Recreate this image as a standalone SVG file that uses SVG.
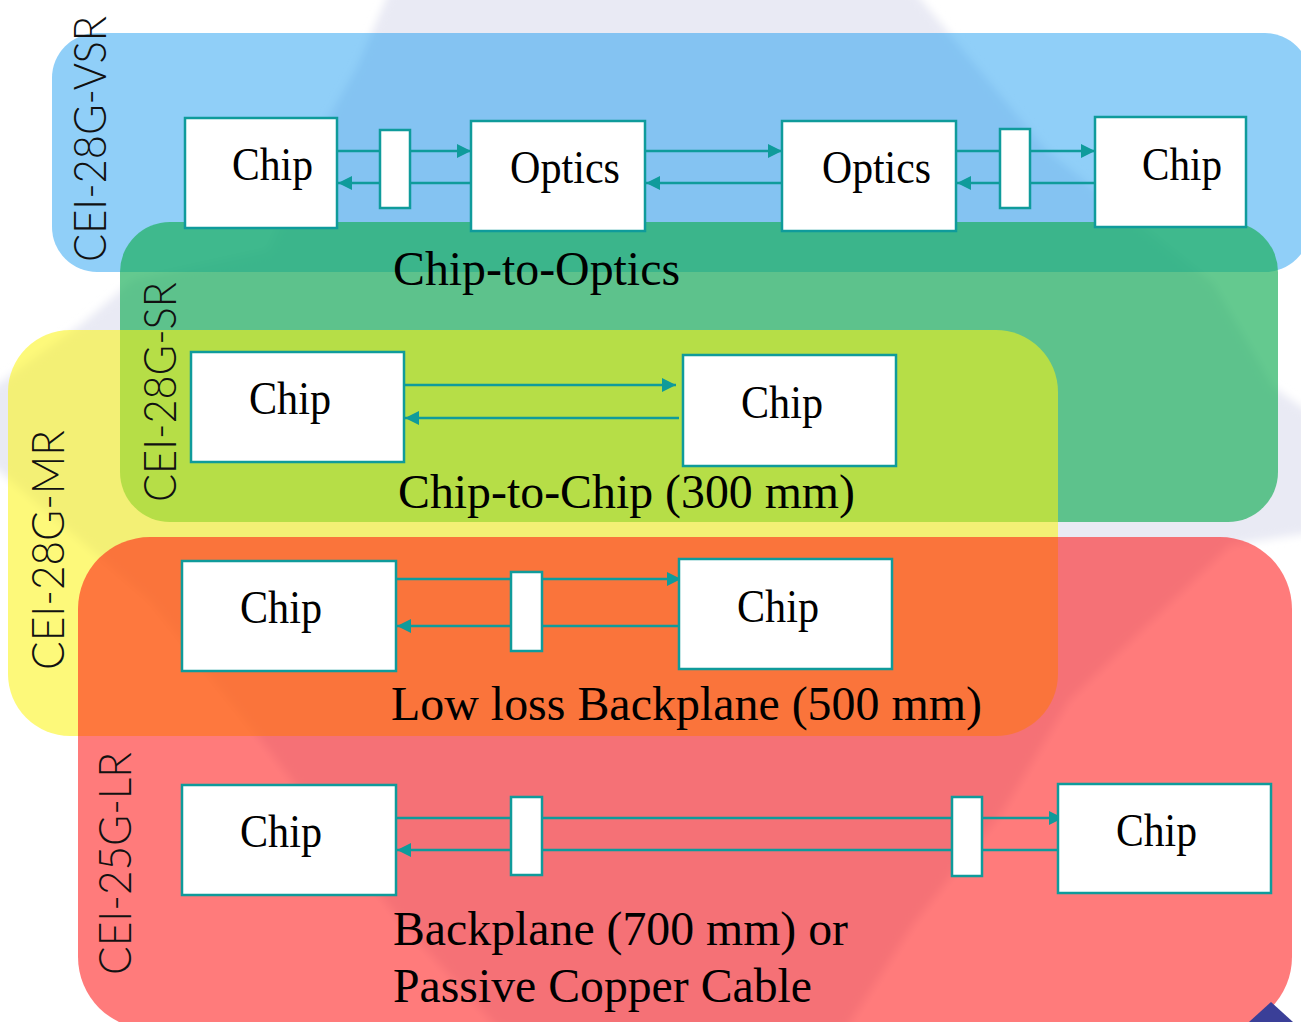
<svg xmlns="http://www.w3.org/2000/svg" width="1301" height="1022" viewBox="0 0 1301 1022">
  <defs>
    <style>
      .band-label { font-family: Lato, "Open Sans", "DejaVu Sans", sans-serif; font-weight: 300; font-size: 46px; fill: #111; }
      .node-label { font-family: "Liberation Serif", "Times New Roman", serif; font-size: 46px; fill: #000; }
      .caption { font-family: "Liberation Serif", "Times New Roman", serif; font-size: 48px; fill: #000; }
      .box { fill: #ffffff; stroke: #0f9b9b; stroke-width: 2.5; }
      .link { fill: none; stroke: #0f9b9b; stroke-width: 2.5; marker-end: url(#head); }
    </style>
    <marker id="head" markerUnits="userSpaceOnUse" markerWidth="14" markerHeight="14" refX="14" refY="7" orient="auto">
      <path d="M0,0 L14,7 L0,14 Z" fill="#0f9b9b"/>
    </marker>
    <filter id="soft" x="-5%" y="-5%" width="110%" height="110%">
      <feGaussianBlur stdDeviation="4"/>
    </filter>
  </defs>

  <!-- page background and faint watermark -->
  <rect x="0" y="0" width="1301" height="1022" fill="#ffffff"/>
  <path id="watermark" filter="url(#soft)" fill="#e9eaf4"
        d="M390,-10 L913,-10 L1046,150 L1213,283 L1273,387 L1310,413 L1310,533 L1230,545 L1069,700 L1002,812 L913,924 L845,1030 L500,1030 L402,923 L268,749 L150,600 L-10,463 L-10,390 L83,323 L133,280 L268,250 L312,147 L357,67 Z"/>

  <!-- reach bands, semi-transparent so overlaps mix -->
  <g id="bands">
    <rect id="band-vsr" x="52" y="33" width="1258" height="239" rx="45" fill="#0995f0" fill-opacity="0.45"/>
    <rect id="band-sr" x="120" y="222" width="1158" height="300" rx="50" fill="#18ae58" fill-opacity="0.67"/>
    <rect id="band-mr" x="8" y="330" width="1050" height="406" rx="62" fill="#fcf512" fill-opacity="0.56"/>
    <rect id="band-lr" x="78" y="537" width="1214" height="492" rx="72" fill="#ff0b0b" fill-opacity="0.54"/>
  </g>

  <!-- corner logo fragment -->
  <path d="M1271,1002 L1293,1022 L1249,1022 Z" fill="#3a3f98"/>

  <!-- band names -->
  <g id="band-names">
    <text class="band-label" transform="translate(106,262) rotate(-90)" textLength="246" lengthAdjust="spacingAndGlyphs">CEI-28G-VSR</text>
    <text class="band-label" transform="translate(176,502) rotate(-90)" textLength="220" lengthAdjust="spacingAndGlyphs">CEI-28G-SR</text>
    <text class="band-label" transform="translate(64,670) rotate(-90)" textLength="240" lengthAdjust="spacingAndGlyphs">CEI-28G-MR</text>
    <text class="band-label" transform="translate(131,975) rotate(-90)" textLength="223" lengthAdjust="spacingAndGlyphs">CEI-25G-LR</text>
  </g>

  <!-- captions -->
  <g id="captions">
    <text class="caption" x="393" y="285" textLength="287" lengthAdjust="spacingAndGlyphs">Chip-to-Optics</text>
    <text class="caption" x="398" y="508" textLength="457" lengthAdjust="spacingAndGlyphs">Chip-to-Chip (300 mm)</text>
    <text class="caption" x="391" y="720" textLength="591" lengthAdjust="spacingAndGlyphs">Low loss Backplane (500 mm)</text>
    <text class="caption" x="393" y="945" textLength="455" lengthAdjust="spacingAndGlyphs">Backplane (700 mm) or</text>
    <text class="caption" x="393" y="1002" textLength="419" lengthAdjust="spacingAndGlyphs">Passive Copper Cable</text>
  </g>

  <!-- signal lanes -->
  <g id="connectors">
    <path class="link" d="M337,151 H471"/>
    <path class="link" d="M471,183 H338"/>
    <path class="link" d="M641,151 H782"/>
    <path class="link" d="M782,183 H646"/>
    <path class="link" d="M953,151 H1095"/>
    <path class="link" d="M1095,183 H957"/>

    <path class="link" d="M404,385 H676"/>
    <path class="link" d="M679,418 H405"/>

    <path class="link" d="M396,579 H681"/>
    <path class="link" d="M679,626 H397"/>

    <path class="link" d="M396,818 H1063"/>
    <path class="link" d="M1058,850 H397"/>
  </g>

  <!-- VSR: chip to optics -->
  <g id="vsr-chip-a"><rect class="box" x="185" y="118" width="152" height="110"/><text class="node-label" x="232" y="180" textLength="81" lengthAdjust="spacingAndGlyphs">Chip</text></g>
  <g id="vsr-conn-a"><rect class="box" x="380" y="130" width="30" height="78"/></g>
  <g id="vsr-optics-a"><rect class="box" x="471" y="121" width="174" height="110"/><text class="node-label" x="510" y="183" textLength="110" lengthAdjust="spacingAndGlyphs">Optics</text></g>
  <g id="vsr-optics-b"><rect class="box" x="782" y="121" width="174" height="110"/><text class="node-label" x="822" y="183" textLength="109" lengthAdjust="spacingAndGlyphs">Optics</text></g>
  <g id="vsr-conn-b"><rect class="box" x="1000" y="129" width="30" height="79"/></g>
  <g id="vsr-chip-b"><rect class="box" x="1095" y="117" width="151" height="110"/><text class="node-label" x="1142" y="180" textLength="80" lengthAdjust="spacingAndGlyphs">Chip</text></g>

  <!-- SR: chip to chip -->
  <g id="sr-chip-a"><rect class="box" x="191" y="352" width="213" height="110"/><text class="node-label" x="249" y="414" textLength="82" lengthAdjust="spacingAndGlyphs">Chip</text></g>
  <g id="sr-chip-b"><rect class="box" x="683" y="355" width="213" height="111"/><text class="node-label" x="741" y="418" textLength="82" lengthAdjust="spacingAndGlyphs">Chip</text></g>

  <!-- MR: low loss backplane -->
  <g id="mr-chip-a"><rect class="box" x="182" y="561" width="214" height="110"/><text class="node-label" x="240" y="623" textLength="82" lengthAdjust="spacingAndGlyphs">Chip</text></g>
  <g id="mr-conn"><rect class="box" x="511" y="572" width="31" height="79"/></g>
  <g id="mr-chip-b"><rect class="box" x="679" y="559" width="213" height="110"/><text class="node-label" x="737" y="622" textLength="82" lengthAdjust="spacingAndGlyphs">Chip</text></g>

  <!-- LR: backplane or copper cable -->
  <g id="lr-chip-a"><rect class="box" x="182" y="785" width="214" height="110"/><text class="node-label" x="240" y="847" textLength="82" lengthAdjust="spacingAndGlyphs">Chip</text></g>
  <g id="lr-conn-a"><rect class="box" x="511" y="797" width="31" height="78"/></g>
  <g id="lr-conn-b"><rect class="box" x="952" y="797" width="30" height="79"/></g>
  <g id="lr-chip-b"><rect class="box" x="1058" y="784" width="213" height="109"/><text class="node-label" x="1116" y="846" textLength="81" lengthAdjust="spacingAndGlyphs">Chip</text></g>
</svg>
